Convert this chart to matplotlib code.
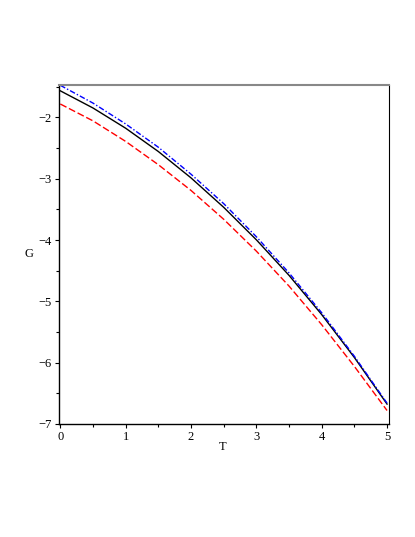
import matplotlib
matplotlib.use("Agg")
import matplotlib.pyplot as plt
from matplotlib.ticker import MultipleLocator

# values
T = [0, 0.5, 1, 1.5, 2, 2.5, 3, 3.5, 4, 4.5, 5]
G_black = [-1.565, -1.845, -2.175, -2.555, -2.985, -3.465, -3.995, -4.575, -5.215, -5.915, -6.675]
G_red = [-1.78, -2.055, -2.39, -2.77, -3.19, -3.66, -4.18, -4.75, -5.38, -6.06, -6.78]
G_blue = [-1.475, -1.765, -2.105, -2.485, -2.925, -3.405, -3.945, -4.535, -5.185, -5.895, -6.66]

plt.rcParams['font.family'] = ['Liberation Serif', 'DejaVu Serif']

fig = plt.figure(figsize=(4.15, 5.37), dpi=100)
ax = fig.add_axes([59 / 415, 113 / 537, 330 / 415, 339 / 537])

ax.plot(T, G_black, color="black", lw=1.0)
ax.plot(T, G_red, color="red", lw=1.0, dashes=(5, 2))
ax.plot(T, G_blue, color="blue", lw=1.0, dashes=(4, 1.5, 1, 1.5))

ax.set_xlim(-0.02, 5.03)
ax.set_ylim(-7, -1.47)
ax.xaxis.set_major_locator(MultipleLocator(1))
ax.xaxis.set_minor_locator(MultipleLocator(0.5))
ax.yaxis.set_major_locator(MultipleLocator(1))
ax.yaxis.set_minor_locator(MultipleLocator(0.5))
ax.tick_params(which="major", length=3, width=0.8, labelsize=9, pad=2)
ax.tick_params(which="minor", length=2, width=0.8)
ax.tick_params(top=False, right=False)

for side in ["left", "bottom"]:
    ax.spines[side].set_color("black")
    ax.spines[side].set_linewidth(1.0)
ax.spines["top"].set_color("#888888")
ax.spines["top"].set_linewidth(1.5)
ax.spines["right"].set_color("black")
ax.spines["right"].set_linewidth(0.8)

fig.text(29 / 415, 1 - 254 / 537, "G", fontsize=9, ha="center", va="center")
fig.text(223 / 415, 1 - 447 / 537, "T", fontsize=9, ha="center", va="center")

fig.savefig("out.png", dpi=100)
